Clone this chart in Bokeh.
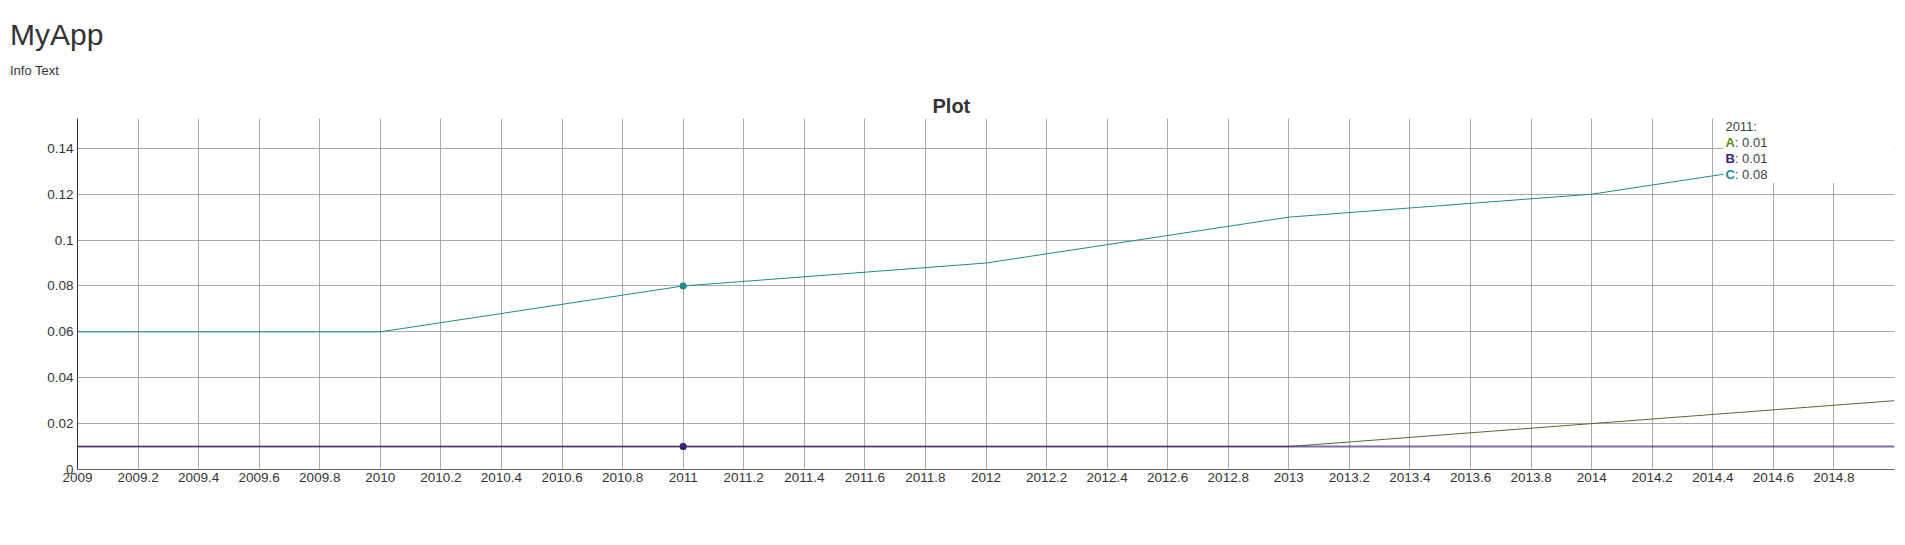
from bokeh.plotting import figure
from bokeh.models import (Div, Range1d, FixedTicker, CustomJSTickFormatter,
                          BoxAnnotation, Label)
from bokeh.layouts import column
from bokeh.embed import file_html
from bokeh.resources import INLINE

# ---------------- data ----------------
years = [2009, 2010, 2011, 2012, 2013, 2014, 2015]
series_a = [0.01, 0.01, 0.01, 0.01, 0.01, 0.02, 0.03]
series_b = [0.01, 0.01, 0.01, 0.01, 0.01, 0.01, 0.01]
series_c = [0.06, 0.06, 0.08, 0.09, 0.11, 0.12, 0.14]
series_names = ["A", "B", "C"]

x_ticks = [2009, 2009.2, 2009.4, 2009.6, 2009.8, 2010, 2010.2, 2010.4, 2010.6,
           2010.8, 2011, 2011.2, 2011.4, 2011.6, 2011.8, 2012, 2012.2, 2012.4,
           2012.6, 2012.8, 2013, 2013.2, 2013.4, 2013.6, 2013.8, 2014, 2014.2,
           2014.4, 2014.6, 2014.8]
x_labels = ["2009", "2009.2", "2009.4", "2009.6", "2009.8", "2010", "2010.2",
            "2010.4", "2010.6", "2010.8", "2011", "2011.2", "2011.4", "2011.6",
            "2011.8", "2012", "2012.2", "2012.4", "2012.6", "2012.8", "2013",
            "2013.2", "2013.4", "2013.6", "2013.8", "2014", "2014.2", "2014.4",
            "2014.6", "2014.8"]
y_ticks = [0, 0.02, 0.04, 0.06, 0.08, 0.1, 0.12, 0.14]
y_labels = ["0", "0.02", "0.04", "0.06", "0.08", "0.1", "0.12", "0.14"]

hover_year = 2011

# ---------------- styles ----------------
FONT = "Liberation Sans"
COL_A = "#5f8f1c"
COL_A_LINE = "#556b2f"
COL_B = "#3f1d78"
COL_C = "#1f8a8a"

title_div = Div(text="MyApp", width=400, height=48, margin=(10, 0, 0, 10),
                styles={"font-family": FONT, "font-size": "30px",
                        "color": "#333333", "line-height": "50px"})
info_div = Div(text="Info Text", width=400, height=26, margin=(0, 0, 0, 10),
               styles={"font-family": FONT, "font-size": "13px",
                       "color": "#333333", "line-height": "26px"})

p = figure(frame_width=1817, frame_height=351,
           min_border_left=77, min_border_right=5, min_border_top=0,
           min_border_bottom=30,
           x_range=Range1d(2009, 2015), y_range=Range1d(0, 0.153),
           output_backend="svg", toolbar_location=None, margin=(6, 0, 0, 0),
           title="Plot")
p.title.text_font = FONT
p.title.text_font_size = "20px"
p.title.text_font_style = "bold"
p.title.text_color = "#333333"
p.title.align = "left"
p.title.offset = 855
p.title.standoff = 4
p.outline_line_color = None
p.background_fill_color = "white"

# axes
for ax in (p.xaxis[0], p.yaxis[0]):
    ax.major_tick_in = 0
    ax.major_tick_out = 0
    ax.minor_tick_in = 0
    ax.minor_tick_out = 0
    ax.major_label_text_font = FONT
    ax.major_label_text_font_size = "13.5px"
    ax.major_label_text_color = "#333333"
p.xaxis[0].axis_line_color = "#666666"
p.yaxis[0].axis_line_color = "#333333"
p.xaxis[0].major_label_standoff = 3
p.yaxis[0].major_label_standoff = 4

p.xaxis[0].ticker = FixedTicker(ticks=x_ticks)
p.yaxis[0].ticker = FixedTicker(ticks=y_ticks)
p.xaxis[0].formatter = CustomJSTickFormatter(
    args=dict(tick_values=x_ticks, tick_labels=x_labels),
    code="const i = tick_values.findIndex(t => Math.abs(t - tick) < 1e-6); return i >= 0 ? tick_labels[i] : '';")
p.yaxis[0].formatter = CustomJSTickFormatter(
    args=dict(tick_values=y_ticks, tick_labels=y_labels),
    code="const i = tick_values.findIndex(t => Math.abs(t - tick) < 1e-9); return i >= 0 ? tick_labels[i] : '';")

p.xgrid[0].ticker = FixedTicker(ticks=x_ticks + [2015])
p.ygrid[0].ticker = FixedTicker(ticks=y_ticks)
for g in (p.xgrid[0], p.ygrid[0]):
    g.grid_line_color = "#9a9a9a"
    g.grid_line_width = 1
    g.grid_line_alpha = 0.85

# lines
p.line(years, series_a, line_color=COL_A_LINE, line_width=1)
p.line(years, series_b, line_color=COL_B, line_width=2, line_alpha=0.65)
p.line(years, series_c, line_color=COL_C, line_width=1)

# hover markers at hovered year
idx = years.index(hover_year)
p.scatter([years[idx]], [series_a[idx]], size=7, fill_color=COL_A, line_color=None)
p.scatter([years[idx]], [series_b[idx]], size=7, fill_color=COL_B, line_color=None)
p.scatter([years[idx]], [series_c[idx]], size=7, fill_color=COL_C, line_color=None)

# tooltip box (top right)
box_left = 2014.435
p.add_layout(BoxAnnotation(left=box_left, right=2015, bottom=0.1249, top=0.153,
                           fill_color="white", fill_alpha=1.0, line_color=None))
tip_y = [0.1497, 0.1426, 0.1356, 0.1287]
p.add_layout(Label(x=box_left, y=tip_y[0], x_offset=2, text=f"{hover_year}:",
                   text_font=FONT, text_font_size="13px", text_color="#444444",
                   text_baseline="middle"))
vals = [series_a[idx], series_b[idx], series_c[idx]]
cols = [COL_A, COL_B, COL_C]
for k, (name, v, c) in enumerate(zip(series_names, vals, cols)):
    p.add_layout(Label(x=box_left, y=tip_y[k + 1], x_offset=2, text=name,
                       text_font=FONT, text_font_size="13px", text_font_style="bold",
                       text_color=c, text_baseline="middle"))
    p.add_layout(Label(x=box_left, y=tip_y[k + 1], x_offset=11.5, text=f": {v:.2f}",
                       text_font=FONT, text_font_size="13px", text_color="#444444",
                       text_baseline="middle"))

layout = column(title_div, info_div, p, spacing=0)
open("out.html", "w").write(file_html(layout, INLINE))
